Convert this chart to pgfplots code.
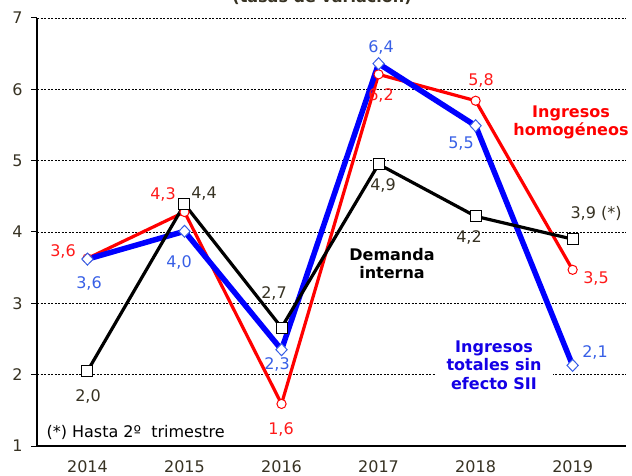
\documentclass[border=0pt]{standalone}
\usepackage{pgfplots}
\pgfplotsset{compat=1.18}
\usepackage{fontspec}
\setmainfont{DejaVu Sans}
\definecolor{myred}{RGB}{255,0,0}
\definecolor{myblue}{RGB}{0,0,255}
\definecolor{lblblue}{RGB}{55,95,230}
\definecolor{lblred}{RGB}{255,25,25}
\definecolor{lblblack}{RGB}{55,50,35}
\definecolor{annblue}{RGB}{20,0,230}
\begin{document}
\fontsize{16bp}{18.5bp}\selectfont
\begin{tikzpicture}
\useasboundingbox (0,0) rectangle (632bp,476bp);
\begin{axis}[at={(37bp,30bp)}, anchor=south west, scale only axis,
  width=589bp, height=428bp,
  xmin=-0.52, xmax=5.55, ymin=1, ymax=7,
  axis x line=bottom, axis y line=left,
  axis line style={-, black, line width=1.3bp},
  xtick={0,1,2,3,4,5}, xticklabels={2014,2015,2016,2017,2018,2019},
  ytick={1,2,3,4,5,6,7},
  ymajorgrids, grid style={black, line width=0.6bp, dash pattern=on 2bp off 1.5bp},
  tick align=outside, major tick length=6bp,
  tick style={black, line width=1bp},
  xtick style={draw=none},
  /pgf/number format/assume math mode=true,
  ticklabel style={font=\fontsize{16bp}{18.5bp}\selectfont, text=lblblack},
  yticklabel style={xshift=-3bp},
  xticklabel style={yshift=-3bp},
  clip=false]
\addplot[myred, line width=3.2bp, mark=*, mark size=4.6bp,
  mark options={fill=white, draw=myred, line width=1bp}]
  coordinates {(0,3.63) (1,4.28) (2,1.59) (3,6.21) (4,5.84) (5,3.47)};
\addplot[myblue, line width=5.5bp, mark=diamond*, mark size=6bp,
  mark options={fill=white, draw=lblblue, line width=1bp, xscale=1.25}]
  coordinates {(0,3.62) (1,4.01) (2,2.35) (3,6.36) (4,5.49) (5,2.13)};
\addplot[black, line width=3.2bp, mark=square*, mark size=5.5bp,
  mark options={fill=white, draw=black, line width=1bp}]
  coordinates {(0,2.05) (1,4.39) (2,2.66) (3,4.95) (4,4.22) (5,3.90)};
\end{axis}
% title (cut off at top)
\node[anchor=base, text=lblblack] at (322bp,473.2bp) {\bfseries (tasas de variación)};
% data labels (pixel coords -> y = 476 - py)
\node[lblred] at (63bp,225bp) {3,6};
\node[lblblue] at (89bp,193bp) {3,6};
\node[lblred] at (163bp,282bp) {4,3};
\node[lblblack] at (204bp,282bp) {4,4};
\node[lblblue] at (179bp,214bp) {4,0};
\node[lblblack] at (88bp,80bp) {2,0};
\node[lblblack] at (274bp,183bp) {2,7};
\node[lblblue] at (277bp,112bp) {2,3};
\node[lblred] at (281bp,47bp) {1,6};
\node[lblblue] at (381bp,429bp) {6,4};
\node[lblred] at (381bp,381bp) {6,2};
\node[lblblack] at (383bp,291bp) {4,9};
\node[lblred] at (481bp,396bp) {5,8};
\node[lblblue] at (461bp,332bp) {5,5};
\node[lblblack] at (469bp,239bp) {4,2};
\node[lblblack] at (596bp,263bp) {3,9 (*)};
\node[lblred] at (596bp,198bp) {3,5};
\node[lblblue] at (595bp,124bp) {2,1};
% annotations
\node[myred, align=center, font=\bfseries] at (571bp,353.5bp) {Ingresos\\homogéneos};
\node[black, align=center, font=\bfseries] at (392bp,212.5bp) {Demanda\\interna};
\node[annblue, align=center, font=\bfseries, fill=white, minimum width=117bp, inner ysep=1bp] at (494bp,111bp) {Ingresos\\totales sin\\efecto SII};
\node[anchor=west] at (41bp,44bp) {(*) Hasta 2º\ \ trimestre};
\end{tikzpicture}
\end{document}
